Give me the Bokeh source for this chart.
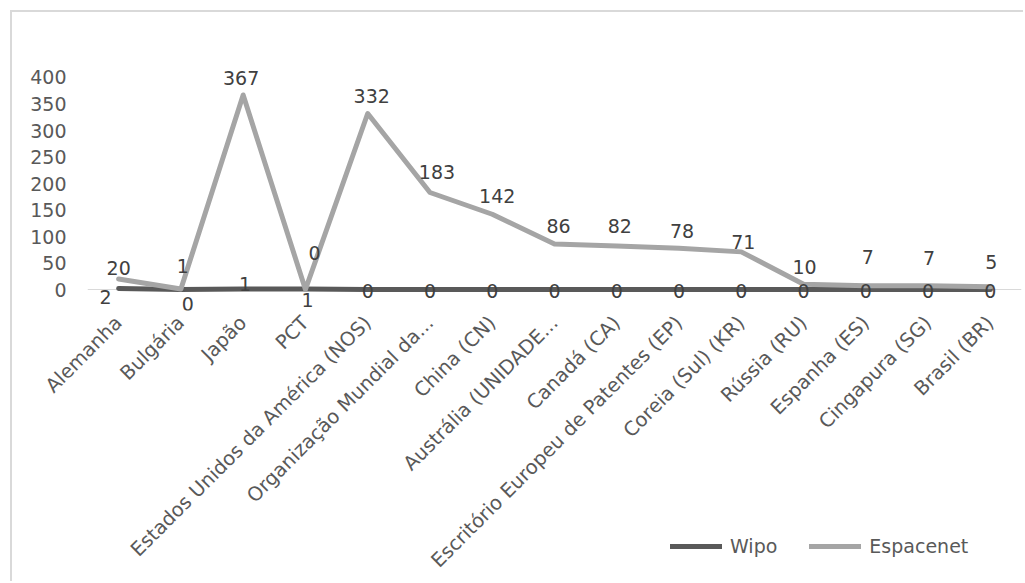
from bokeh.plotting import figure
from bokeh.layouts import column
from bokeh.models import ColumnDataSource, FixedTicker, Range1d, Span, Legend, LegendItem
from bokeh.core.properties import value
from bokeh.embed import file_html
from bokeh.resources import INLINE
import math

categories = ["Alemanha", "Bulgária", "Japão", "PCT", "Estados Unidos da América (NOS)",
              "Organização Mundial da...", "China (CN)", "Austrália (UNIDADE...", "Canadá (CA)",
              "Escritório Europeu de Patentes (EP)", "Coreia (Sul) (KR)", "Rússia (RU)",
              "Espanha (ES)", "Cingapura (SG)", "Brasil (BR)"]
wipo = [2, 0, 1, 1, 0, 0, 0, 0, 0, 0, 0, 0, 0, 0, 0]
espacenet = [20, 1, 367, 0, 332, 183, 142, 86, 82, 78, 71, 10, 7, 7, 5]
y_ticks = [0, 50, 100, 150, 200, 250, 300, 350, 400]
series_names = ["Wipo", "Espacenet"]
series_colors = ["#595959", "#a5a5a5"]

# label placement (screen px) for data labels
esp_dx = [0, 2, -2, 9, 4, 7, 5, 4, 3, 3, 2, 1, 2, 1, 1]
esp_dy = [-11, -23, -17, -37, -18, -21, -18, -18, -20, -17, -10, -17, -29, -28, -25]
wipo_dx = [-13, 7, 2, 2, 0, 0, 0, 0, 0, 0, 0, 0, 0, 0, 0]
wipo_dy = [9, 14, -5, 11, 1, 1, 1, 1, 1, 1, 1, 1, 1, 1, 1]

FONT = "DejaVu Sans"

src = ColumnDataSource(dict(
    cat=categories, wipo=wipo, esp=espacenet,
    wipo_lbl=[str(v) for v in wipo], esp_lbl=[str(v) for v in espacenet],
    edx=esp_dx, edy=esp_dy, wdx=wipo_dx, wdy=wipo_dy,
))

p = figure(x_range=categories, y_range=Range1d(-39.6, 441.5),
           width=1013, height=571, output_backend="svg", toolbar_location=None,
           min_border_left=75, min_border_right=4, min_border_top=43, min_border_bottom=273)
p.styles = {"margin-left": "10px", "margin-top": "10px",
            "border-left": "2px solid #d9d9d9", "border-top": "2px solid #d9d9d9"}
p.outline_line_color = None
p.grid.visible = False
p.background_fill_color = "white"
p.border_fill_color = "white"

# baseline
p.add_layout(Span(location=0, dimension="width", line_color="#d9d9d9", line_width=1,
                  level="underlay"))

r1 = p.line("cat", "wipo", source=src, line_color=series_colors[0], line_width=5,
            line_join="round", line_cap="round")
r2 = p.line("cat", "esp", source=src, line_color=series_colors[1], line_width=5,
            line_join="round", line_cap="round")

p.text("cat", "esp", text="esp_lbl", source=src, x_offset="edx", y_offset="edy",
       text_align="center", text_baseline="middle", text_font=value(FONT),
       text_font_size="19px", text_color="#404040")
p.text("cat", "wipo", text="wipo_lbl", source=src, x_offset="wdx", y_offset="wdy",
       text_align="center", text_baseline="middle", text_font=value(FONT),
       text_font_size="19px", text_color="#404040")

# axes
p.yaxis.ticker = FixedTicker(ticks=y_ticks)
p.yaxis.axis_line_color = None
p.yaxis.major_tick_line_color = None
p.yaxis.minor_tick_line_color = None
p.yaxis.major_label_standoff = 15
p.yaxis.major_label_text_font = FONT
p.yaxis.major_label_text_font_size = "19px"
p.yaxis.major_label_text_color = "#595959"

p.xaxis.axis_line_color = None
p.xaxis.major_tick_line_color = None
p.xaxis.major_label_orientation = math.pi / 4
p.xaxis.major_label_standoff = 3
p.xaxis.major_label_text_font = FONT
p.xaxis.major_label_text_font_size = "19.5px"
p.xaxis.major_label_text_color = "#595959"

# legend (overlaid transparent strip)
leg = figure(width=1025, height=30, output_backend="svg", toolbar_location=None,
             x_axis_type=None, y_axis_type=None, min_border=0,
             x_range=Range1d(0, 1), y_range=Range1d(0, 1))
leg.outline_line_color = None
leg.grid.visible = False
leg.background_fill_color = None
leg.border_fill_color = None
items = []
for name, col in zip(series_names, series_colors):
    rr = leg.line(x=[float("nan")], y=[float("nan")], line_color=col, line_width=5,
                  line_cap="round")
    items.append(LegendItem(label=name, renderers=[rr]))
legend = Legend(items=items, location=(595, 7), orientation="horizontal",
                padding=0, margin=0, spacing=32, label_standoff=8,
                glyph_width=52, glyph_height=20, label_height=20,
                label_text_font=FONT, label_text_font_size="19px",
                label_text_color="#595959", border_line_color=None,
                background_fill_alpha=0)
leg.add_layout(legend, "center")
leg.styles = {"margin-top": "-47px"}

root = column(p, leg, spacing=0)
open("out.html", "w").write(file_html(root, INLINE))
